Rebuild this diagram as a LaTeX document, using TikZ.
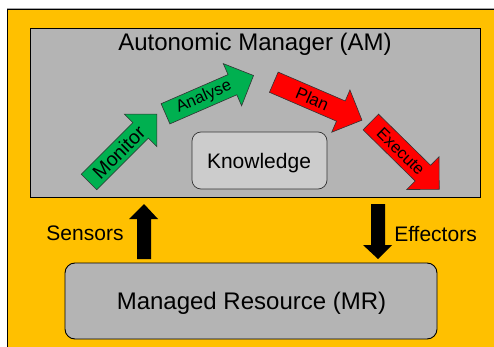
\documentclass[tikz,border=0pt]{standalone}
\usepackage{fontspec}
\setmainfont{Liberation Sans}
\definecolor{amorange}{HTML}{FFC000}
\definecolor{amgray}{HTML}{B4B4B4}
\definecolor{amlight}{HTML}{CCCCCC}
\definecolor{amgreen}{HTML}{00B050}
\definecolor{amred}{HTML}{FF0000}
\tikzset{
  boxline/.style={draw=black, line width=0.9pt},
  blockarr/.style={draw=black!80, line width=0.6pt},
}
\newcommand{\blockarrow}[7]{%
  \begin{scope}[shift={(#1,#2)}, rotate=#3]
    \draw[blockarr, fill=#4] (0,-11) -- (73,-11) -- (73,-23) -- (96,0) -- (73,23) -- (73,11) -- (0,11) -- cycle;
    \node[rotate=#3, inner sep=0pt] (#7) at (42,0) {\fontsize{#6}{#6}\selectfont #5};
  \end{scope}}
\begin{document}
\begin{tikzpicture}[x=1pt,y=-1pt]
\useasboundingbox (0,0) rectangle (494,347);
\begin{scope}
\clip (0,0) rectangle (494,347);
\fill[black!35] (7,8) rectangle (500,9);
\draw[fill=amorange, draw=black, line width=0.9pt] (7.5,9) rectangle (520,380);
\end{scope}
% Autonomic manager box
\draw[boxline, fill=amgray] (30,28) rectangle (480,197);
\node[anchor=base, inner sep=0pt] (am) at (255,51) {\fontsize{24}{28}\selectfont Autonomic Manager (AM)};
% Knowledge
\draw[draw=black!80, line width=0.7pt, fill=amlight, rounded corners=9pt] (192,132) rectangle (327,189);
\node[anchor=base, inner sep=0pt] (kn) at (259,168) {\fontsize{21}{25}\selectfont Knowledge};
% block arrows
\blockarrow{89}{182}{45}{amgreen}{Monitor}{19.5}{mon}
\blockarrow{165.5}{113.8}{23.5}{amgreen}{Analyse}{16.5}{ana}
\blockarrow{273.8}{82.2}{-23.3}{amred}{Plan}{17}{pla}
\blockarrow{370.8}{122}{-44.5}{amred}{Execute}{16.5}{exe}
% Managed resource
\draw[boxline, fill=amgray, rounded corners=10pt] (65,263) rectangle (437,339);
\node[anchor=base, inner sep=0pt] (mr) at (251.5,309) {\fontsize{24}{28}\selectfont Managed Resource (MR)};
% Sensors / Effectors arrows
\fill[black] (137,259) -- (137,219) -- (129,219) -- (144,204) -- (158,219) -- (151,219) -- (151,259) -- cycle;
\fill[black] (371,204) -- (385,204) -- (385,245) -- (392,245) -- (378,259) -- (363,245) -- (371,245) -- cycle;
\node[anchor=base, inner sep=0pt] (sen) at (85,240) {\fontsize{21}{25}\selectfont Sensors};
\node[anchor=base, inner sep=0pt] (eff) at (435.5,241) {\fontsize{21}{25}\selectfont Effectors};
\end{tikzpicture}
\end{document}
